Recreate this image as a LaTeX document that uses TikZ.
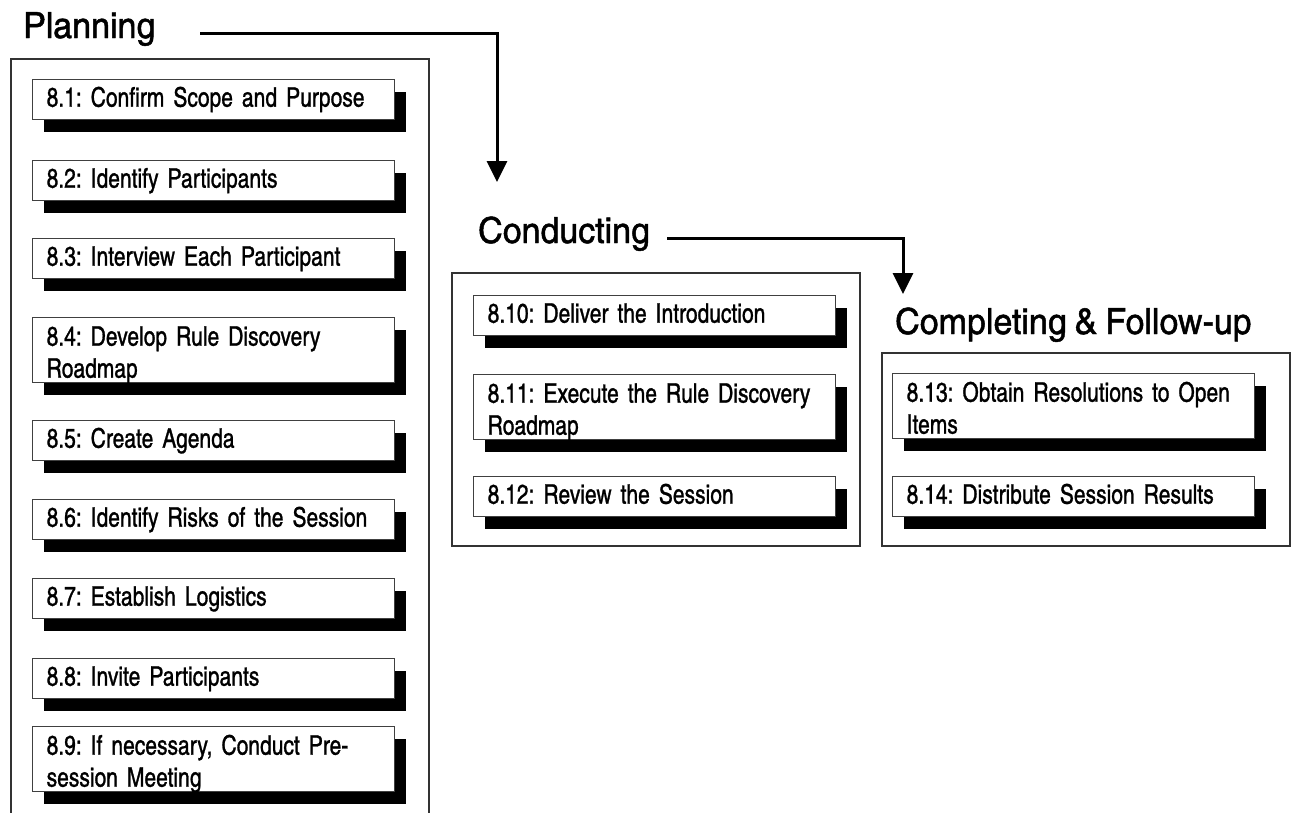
\documentclass[tikz,border=0pt]{standalone}
\usepackage{fontspec}
\setmainfont{texgyreheroscn-regular.otf}[FakeBold=1.0, FakeStretch=0.95, WordSpace=0.6]
\newfontfamily\headfont{texgyreheroscn-regular.otf}[FakeBold=1.3, FakeStretch=1.15, WordSpace=0.85]
\usetikzlibrary{arrows.meta,shadows}
\frenchspacing

\begin{document}
\begin{tikzpicture}[x=1pt,y=-1pt,
  phase/.style={draw=black!80, line width=1.6pt, anchor=north west, inner sep=0pt},
  title/.style={anchor=base west, inner sep=0pt, font=\headfont\fontsize{36}{40}\selectfont, text=black},
  stepbox/.style={draw=black!75, line width=1.3pt, fill=white, anchor=north west,
    align=left, inner xsep=14pt, inner ysep=0pt, text width=334pt,
    font=\fontsize{27}{32}\selectfont, text=black,
    drop shadow={shadow xshift=11.5pt, shadow yshift=-12pt, fill=black, opacity=1}},
  one/.style={stepbox, text height=27pt, text depth=13pt},
  two/.style={stepbox, text height=28pt, text depth=37pt},
  flow/.style={line width=3pt, -{Triangle[width=20pt,length=21pt]}}
]
\useasboundingbox (0,0) rectangle (1291,812);

% phase frames
\node[phase, minimum width=418pt, minimum height=780pt] (planbox) at (10,58) {};
\node[phase, minimum width=408pt, minimum height=273pt] (condbox) at (451,272) {};
\node[phase, minimum width=408pt, minimum height=193pt] (compbox) at (881,352) {};

% phase titles
\node[title] (plantitle) at (23,38) {Planning};
\node[title] (condtitle) at (478,243) {Conducting};
\node[title] (comptitle) at (895,334) {Completing \& Follow-up};

% planning steps
\node[one] (s1) at (32,79)  {8.1: Confirm Scope and Purpose};
\node[one] (s2) at (32,160) {8.2: Identify Participants};
\node[one] (s3) at (32,238) {8.3: Interview Each Participant};
\node[two] (s4) at (32,317) {8.4: Develop Rule Discovery\\Roadmap};
\node[one] (s5) at (32,420) {8.5: Create Agenda};
\node[one] (s6) at (32,499) {8.6: Identify Risks of the Session};
\node[one] (s7) at (32,578) {8.7: Establish Logistics};
\node[one] (s8) at (32,658) {8.8: Invite Participants};
\node[two] (s9) at (32,726) {8.9: If necessary, Conduct Pre-\\session Meeting};

% conducting steps
\node[one] (s10) at (473,295) {8.10: Deliver the Introduction};
\node[two] (s11) at (473,374) {8.11: Execute the Rule Discovery\\Roadmap};
\node[one] (s12) at (473,476) {8.12: Review the Session};

% completing steps
\node[two] (s13) at (892,373) {8.13: Obtain Resolutions to Open\\Items};
\node[one] (s14) at (892,476) {8.14: Distribute Session Results};

% flow between phases
\coordinate (f1a) at (200,33);
\coordinate (f1b) at (497,182);
\coordinate (f2a) at (667,238);
\coordinate (f2b) at (903,294);
\draw[flow] (f1a) -| (f1b);
\draw[flow] (f2a) -| (f2b);
\end{tikzpicture}
\end{document}
